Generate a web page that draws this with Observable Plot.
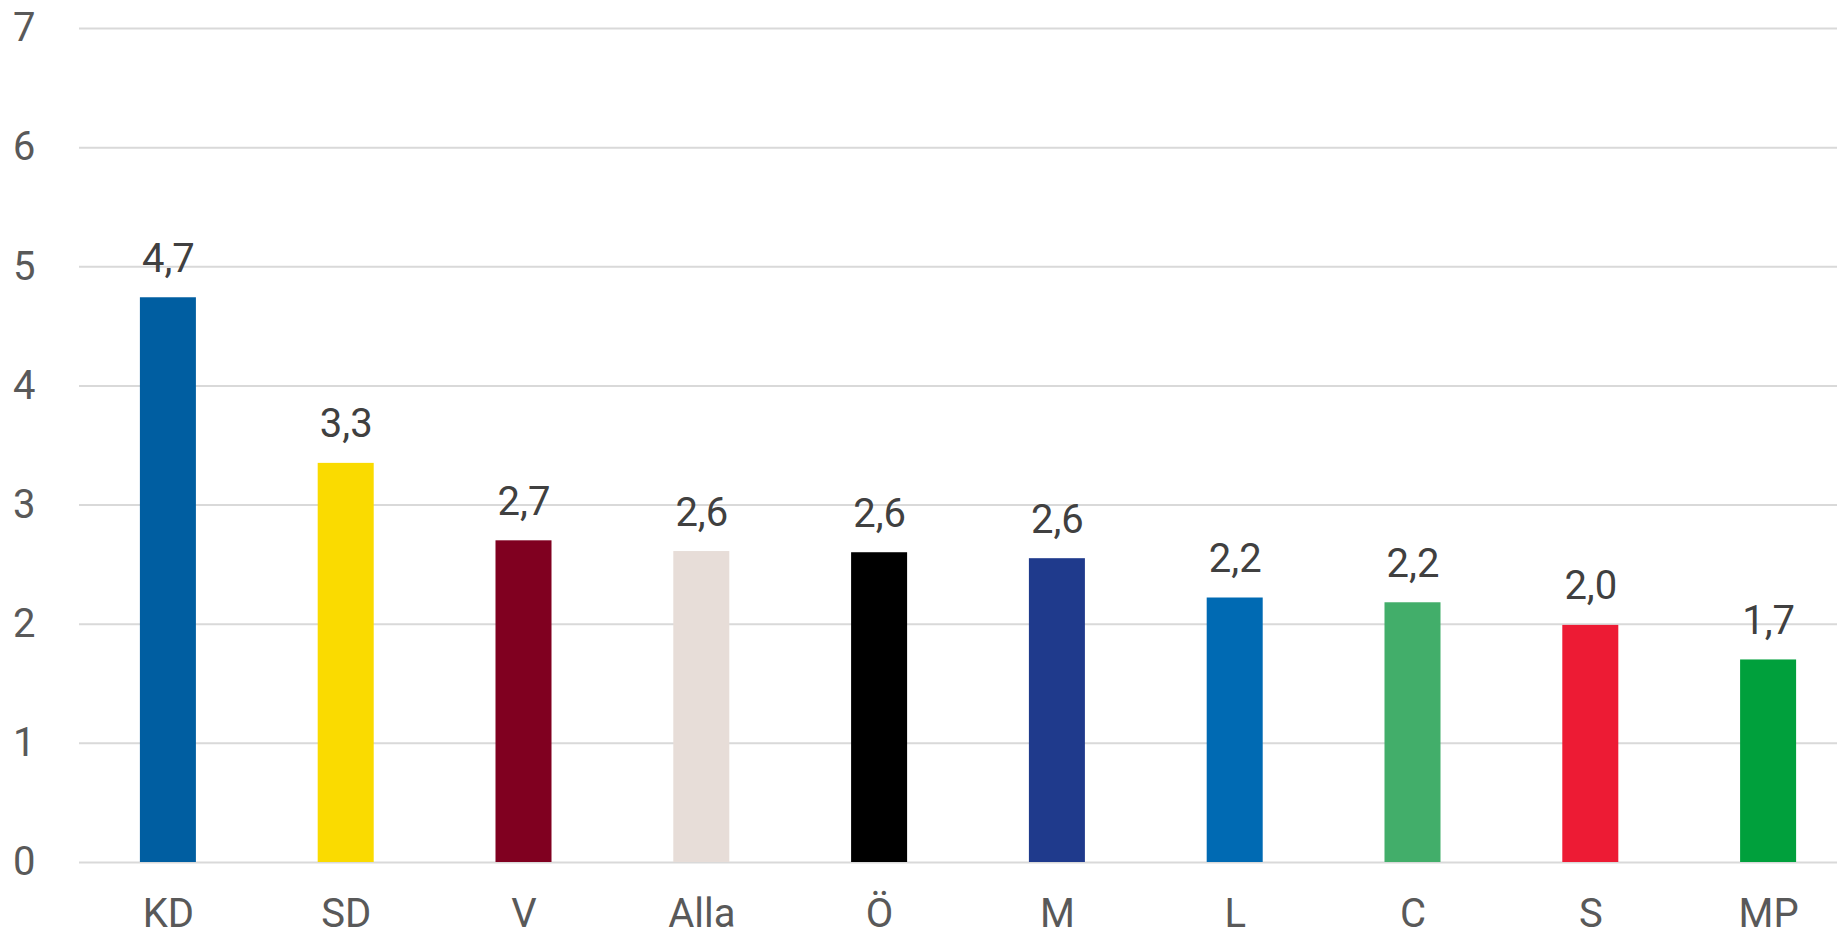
<!DOCTYPE html>
<html>
<head>
<meta charset="utf-8">
<script src="https://cdn.jsdelivr.net/npm/d3@7"></script>
<script src="https://cdn.jsdelivr.net/npm/@observablehq/plot@0.6"></script>
<style>
  html, body { margin: 0; padding: 0; background: #ffffff; }
  #chart { width: 1837px; height: 936px; overflow: hidden; }
</style>
</head>
<body>
<div id="chart"></div>
<script>
const parties = ["KD", "SD", "V", "Alla", "Ö", "M", "L", "C", "S", "MP"];
const values = [4.74, 3.35, 2.70, 2.61, 2.60, 2.55, 2.22, 2.18, 1.99, 1.70];
const valueLabels = ["4,7", "3,3", "2,7", "2,6", "2,6", "2,6", "2,2", "2,2", "2,0", "1,7"];
const partyColors = ["#005ea1", "#fadb00", "#800020", "#e7ddd8", "#000000", "#1f3a8c", "#006ab3", "#42ae6a", "#ed1b34", "#00a03c"];
const yTicks = [0, 1, 2, 3, 4, 5, 6, 7];

const data = parties.map((p, i) => ({party: p, value: values[i], label: valueLabels[i], color: partyColors[i]}));

const font = "Roboto, 'Open Sans', sans-serif";

const chart = Plot.plot({
  width: 1837,
  height: 936,
  marginLeft: 79,
  marginRight: 0,
  marginTop: 28,
  marginBottom: 74,
  style: {fontFamily: font, background: "#ffffff", overflow: "hidden"},
  x: {domain: parties, range: [79, 1857], paddingInner: 0.685, paddingOuter: 0.3425, round: false, label: null},
  y: {domain: [0, 7], label: null},
  marks: [
    Plot.gridY(yTicks, {stroke: "#d9d9d9", strokeOpacity: 1, strokeWidth: 2}),
    Plot.barY(data, {x: "party", y: "value", fill: "color"}),
    Plot.text(data, {x: "party", y: "value", text: "label", dy: -26, lineAnchor: "bottom", fill: "#404040", fontSize: 40, fontWeight: 400, fontFamily: font}),
    Plot.axisY(yTicks, {tickSize: 0, tickPadding: 44, tickFormat: d => String(d), fontSize: 40, fontWeight: 400, fill: "#595959", textAnchor: "end", label: null, fontFamily: font}),
    Plot.axisX({tickSize: 0, tickPadding: 36, fontSize: 40, fontWeight: 400, fill: "#595959", label: null, fontFamily: font})
  ]
});

document.getElementById("chart").appendChild(chart);
</script>
</body>
</html>
